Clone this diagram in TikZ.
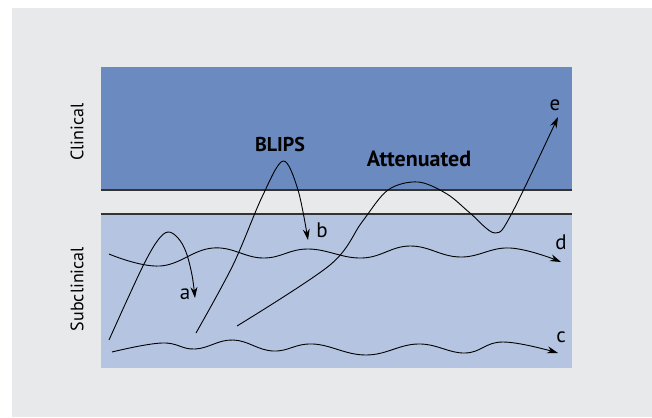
\documentclass[tikz,border=0pt]{standalone}
\usepackage{fontspec}
\setmainfont{PT Sans}
\usetikzlibrary{arrows.meta}
\definecolor{bgc}{HTML}{E8E9EB}
\definecolor{clin}{HTML}{6A8AC0}
\definecolor{subc}{HTML}{B4C4E1}
\definecolor{sep}{HTML}{333333}
\tikzset{
  curve/.style={line width=0.9pt, black},
  arr/.style={curve, -{Stealth[length=11pt,width=7pt]}},
  lbl/.style={font=\fontsize{21}{21}\selectfont, inner sep=0pt},
  big/.style={font=\fontsize{21}{21}\selectfont\bfseries, inner sep=0pt},
  side/.style={font=\fontsize{18}{18}\selectfont, rotate=90, inner sep=0pt},
  sepline/.style={line width=1.6pt, sep}
}
\begin{document}
\begin{tikzpicture}[x=1pt,y=-1pt]
\useasboundingbox (0,0) rectangle (652,417);
\fill[white] (0,0) rectangle (652,417);
\fill[bgc] (12,8) rectangle (652,417);
\fill[clin] (101,67) rectangle (572,189);
\fill[subc] (101,214) rectangle (572,368);
\coordinate (l1a) at (101,190); \coordinate (l1b) at (572,190);
\coordinate (l2a) at (101,214); \coordinate (l2b) at (572,214);
\draw[sepline] (l1a) -- (l1b);
\draw[sepline] (l2a) -- (l2b);

\node[side] (clinical) at (77,132) {Clinical};
\node[side] (subclinical) at (77,289) {Subclinical};
\node[big, font=\fontsize{20}{20}\selectfont\bfseries] (blips) at (280,144) {BLIPS};
\node[big, font=\fontsize{22}{22}\selectfont\bfseries] (att) at (419,159) {Attenuated};
\node[lbl] (e) at (555,105) {e};
\node[lbl] (b) at (322,230) {b};
\node[lbl] (a) at (185,294) {a};
\node[lbl] (d) at (561,242) {d};
\node[lbl] (c) at (561,337) {c};

% curve a
\draw[arr] plot[smooth, tension=0.6] coordinates {(109,340) (128,298) (145,262) (158,240) (168,232) (178,238) (186,252) (192,275) (195,298)};
% BLIPS curve b
\draw[arr] plot[smooth, tension=0.55] coordinates {(196,333) (233,265) (262,197) (283,161) (298,190) (308,240)};
% attenuated curve e
\draw[arr] plot[smooth, tension=0.55] coordinates {(237,326) (330,265) (362,222) (388,190) (418,182) (447,194) (470,213) (495,233) (512,213) (558,117)};
% wave d
\draw[arr] plot[smooth, tension=0.7] coordinates {(109,254) (160,266) (213,248) (263,258) (308,249) (362,258) (410,246) (460,257) (510,248) (561,262)};
% wave c
\draw[arr] plot[smooth, tension=0.7] coordinates {(112,352) (162,343) (195,349) (233,340) (273,351) (313,344) (366,355) (418,344) (465,353) (503,342) (558,353)};
\end{tikzpicture}
\end{document}
